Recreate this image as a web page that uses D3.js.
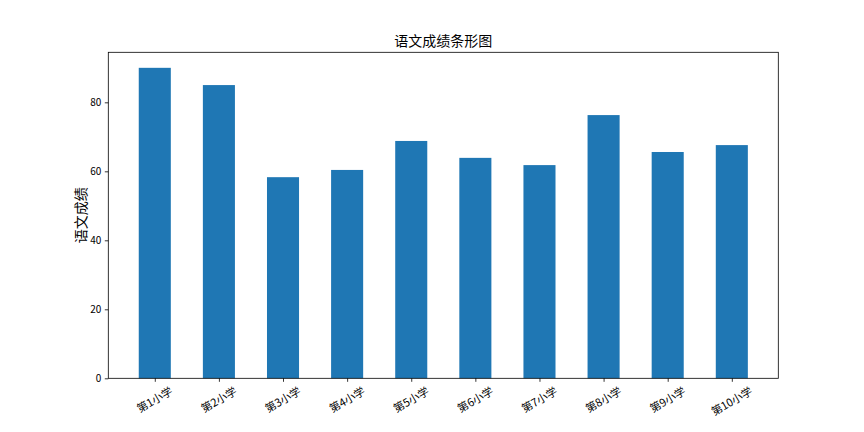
<!DOCTYPE html>
<html><head><meta charset="utf-8">
<script src="https://cdn.jsdelivr.net/npm/d3@7"></script>
<style>body{margin:0;background:#fff}svg{display:block}</style>
</head><body>
<svg id="chart" width="864" height="432"></svg>
<script>
const categories = ["第1小学","第2小学","第3小学","第4小学","第5小学","第6小学","第7小学","第8小学","第9小学","第10小学"];
const scores = [90, 85, 58.3, 60.4, 68.8, 63.9, 61.8, 76.3, 65.6, 67.6];
const yTicks = [0, 20, 40, 60, 80];
const title = "语文成绩条形图";
const yLabel = "语文成绩";

const W = 864, H = 432;
const m = {left: 108.3, right: 864 - 778.3, top: 52.3, bottom: 432 - 378.3};
const font = "'Noto Sans CJK SC', 'Noto Sans', sans-serif";
const svg = d3.select("#chart");
const barW = 0.5;
const n = categories.length;
const xLo = -barW/2, xHi = n - 1 + barW/2, xPad = (xHi - xLo) * 0.05;
const x = d3.scaleLinear().domain([xLo - xPad, xHi + xPad]).range([m.left, W - m.right]);
const yMax = d3.max(scores) * 1.05;
const y = d3.scaleLinear().domain([0, yMax]).range([H - m.bottom, m.top]);

svg.append("g").selectAll("rect").data(scores).join("rect")
  .attr("x", (d,i) => x(i - barW/2))
  .attr("width", (d,i) => x(i + barW/2) - x(i - barW/2))
  .attr("y", d => y(d))
  .attr("height", d => y(0) - y(d))
  .attr("fill", "#1f77b4");

// frame
svg.append("rect").attr("x", m.left).attr("y", m.top)
  .attr("width", W - m.left - m.right).attr("height", H - m.top - m.bottom)
  .attr("fill", "none").attr("stroke", "#000").attr("stroke-width", 0.8);

// y axis
const yAxis = svg.append("g").attr("transform", `translate(${m.left},0)`)
  .call(d3.axisLeft(y).tickValues(yTicks).tickSize(3.5).tickPadding(3.5).tickFormat(d3.format("d")));
yAxis.select(".domain").remove();
yAxis.selectAll("line").attr("stroke", "#000").attr("stroke-width", 0.8);
yAxis.selectAll("text").attr("font-family", font).attr("font-size", 10).attr("fill", "#000");

// x axis
const xAxis = svg.append("g").attr("transform", `translate(0,${H - m.bottom})`)
  .call(d3.axisBottom(x).tickValues(d3.range(n)).tickSize(3.5).tickFormat(""));
xAxis.select(".domain").remove();
xAxis.selectAll("line").attr("stroke", "#000").attr("stroke-width", 0.8);

const lab = svg.append("g").selectAll("text").data(categories).join("text")
  .attr("font-family", font).attr("font-size", 11).attr("fill", "#000")
  .attr("text-anchor", "middle").attr("dy", "0.35em")
  .text(d => d);
lab.each(function(d, i) {
  const w = this.getComputedTextLength();
  const h = 11;
  const bh = w * Math.sin(Math.PI/6) + h * Math.cos(Math.PI/6);
  const cy = H - m.bottom + 3.5 + 3.5 + bh/2;
  d3.select(this).attr("transform", `translate(${x(i)},${cy}) rotate(-30)`);
});

// title
svg.append("text").attr("x", (m.left + W - m.right)/2).attr("y", m.top - 6)
  .attr("text-anchor", "middle").attr("font-family", font).attr("font-size", 14)
  .attr("fill", "#000").text(title);

// y label
svg.append("text")
  .attr("transform", `translate(${81},${(m.top + H - m.bottom)/2}) rotate(-90)`)
  .attr("text-anchor", "middle").attr("dy", "0.35em")
  .attr("font-family", font).attr("font-size", 14).attr("fill", "#000").text(yLabel);
</script>
</body></html>
